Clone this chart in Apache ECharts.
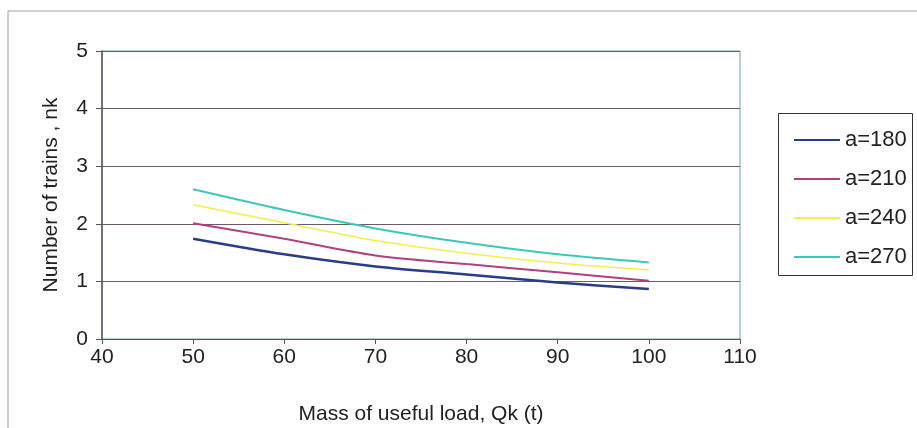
<!DOCTYPE html>
<html><head><meta charset="utf-8">
<script src="https://cdn.jsdelivr.net/npm/echarts@6/dist/echarts.min.js"></script>
<style>html,body{margin:0;padding:0;background:#fff}#c{width:917px;height:428px}</style>
</head><body><div id="c"></div>
<script>
const xValues = [50, 60, 70, 80, 90, 100];
const a180 = [1.74, 1.47, 1.26, 1.12, 0.98, 0.87];
const a210 = [2.01, 1.74, 1.45, 1.30, 1.16, 1.01];
const a240 = [2.33, 2.02, 1.71, 1.49, 1.32, 1.20];
const a270 = [2.60, 2.24, 1.92, 1.67, 1.47, 1.33];
const seriesNames = ['a=180', 'a=210', 'a=240', 'a=270'];
const colors = ['#283c8c', '#b0407e', '#f2ee4a', '#3cc8b8'];
const widths = [2.5, 2, 1.5, 2];
const allData = [a180, a210, a240, a270];

const chart = echarts.init(document.getElementById('c'));
const font = 'Liberation Sans, Arial, sans-serif';
chart.setOption({
  animation: false,
  backgroundColor: '#fff',
  graphic: [{
    type: 'rect', shape: {x: 8, y: 11, width: 940, height: 440},
    style: {fill: 'none', stroke: '#9aa0a0', lineWidth: 1}, silent: true
  }, {
    type: 'rect', shape: {x: 778.5, y: 113.5, width: 134, height: 162},
    style: {fill: '#fff', stroke: '#333', lineWidth: 1}, silent: true, z: 0
  }],
  grid: {left: 102, right: 177, top: 51, bottom: 89, show: true, borderColor: '#6aa890', borderWidth: 1,
         containLabel: false, outerBoundsMode: 'none'},
  legend: {
    orient: 'vertical', left: 789, top: 124, itemGap: 17, itemWidth: 46, itemHeight: 24,
    textStyle: {fontFamily: font, fontSize: 22, color: '#222'},
    data: seriesNames.map((n, i) => ({name: n, icon: 'path://M0,11h46v2h-46z'}))
  },
  xAxis: {
    type: 'value', min: 40, max: 110, interval: 10,
    name: 'Mass of useful load, Qk (t)', nameLocation: 'middle', nameGap: 65,
    nameTextStyle: {fontFamily: font, fontSize: 21, color: '#222'},
    axisLine: {lineStyle: {color: '#555', width: 1}},
    axisTick: {show: true, length: 5, inside: false, lineStyle: {color: '#555'}},
    axisLabel: {fontFamily: font, fontSize: 21, color: '#222', margin: 8},
    splitLine: {show: false}
  },
  yAxis: {
    type: 'value', min: 0, max: 5, interval: 1,
    name: 'Number of trains , nk', nameLocation: 'middle', nameGap: 40,
    nameTextStyle: {fontFamily: font, fontSize: 21, color: '#222'},
    axisLine: {show: true, lineStyle: {color: '#556', width: 1.5}},
    axisTick: {show: true, length: 6, lineStyle: {color: '#555'}},
    axisLabel: {fontFamily: font, fontSize: 21, color: '#222', margin: 14},
    splitLine: {show: true, lineStyle: {color: '#6a5a6a', width: 1}}
  },
  series: allData.map((d, i) => ({
    name: seriesNames[i], type: 'line', smooth: 0.3, showSymbol: false, symbol: 'none',
    data: xValues.map((x, j) => [x, d[j]]),
    lineStyle: {color: colors[i], width: widths[i]},
    itemStyle: {color: colors[i]}
  }))
});
</script></body></html>
